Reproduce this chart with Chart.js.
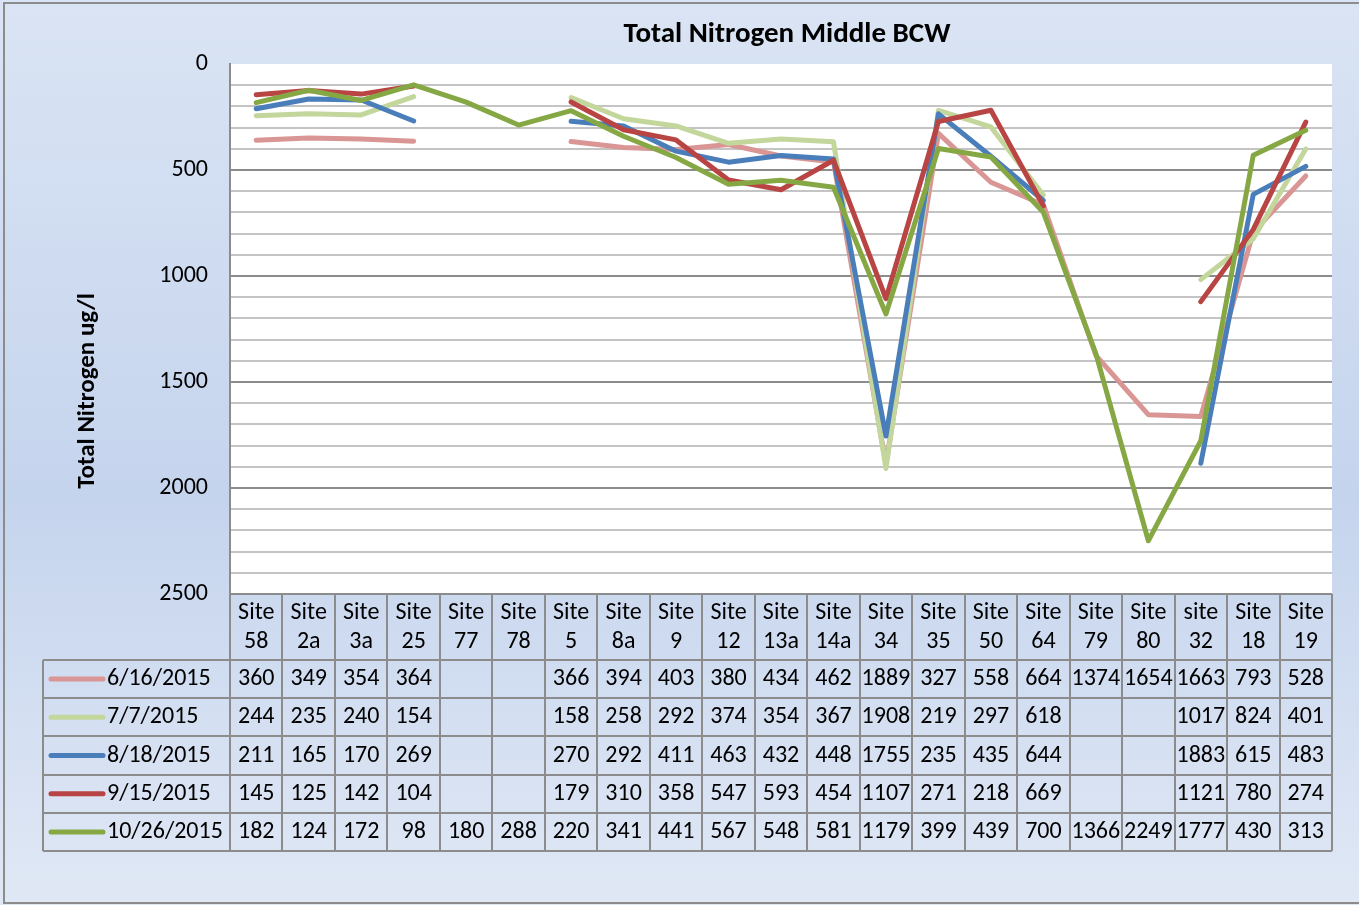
<!DOCTYPE html>
<html>
<head>
<meta charset="utf-8">
<script src="https://cdn.jsdelivr.net/npm/chart.js@4"></script>
<style>
  html, body { margin: 0; padding: 0; background: #fff; }
  #wrap { width: 1359px; height: 905px; position: relative; }
</style>
</head>
<body>
<div id="wrap"><canvas id="nitrogenChart" width="1359" height="905"></canvas></div>
<script>
// site names (two lines each, as in the table header)
const sites = [
  ['Site', '58'], ['Site', '2a'], ['Site', '3a'], ['Site', '25'], ['Site', '77'], ['Site', '78'],
  ['Site', '5'], ['Site', '8a'], ['Site', '9'], ['Site', '12'], ['Site', '13a'], ['Site', '14a'],
  ['Site', '34'], ['Site', '35'], ['Site', '50'], ['Site', '64'], ['Site', '79'], ['Site', '80'],
  ['site', '32'], ['Site', '18'], ['Site', '19']
];

const dates = ['6/16/2015', '7/7/2015', '8/18/2015', '9/15/2015', '10/26/2015'];

const jun16 = [360, 349, 354, 364, null, null, 366, 394, 403, 380, 434, 462, 1889, 327, 558, 664, 1374, 1654, 1663, 793, 528];
const jul7  = [244, 235, 240, 154, null, null, 158, 258, 292, 374, 354, 367, 1908, 219, 297, 618, null, null, 1017, 824, 401];
const aug18 = [211, 165, 170, 269, null, null, 270, 292, 411, 463, 432, 448, 1755, 235, 435, 644, null, null, 1883, 615, 483];
const sep15 = [145, 125, 142, 104, null, null, 179, 310, 358, 547, 593, 454, 1107, 271, 218, 669, null, null, 1121, 780, 274];
const oct26 = [182, 124, 172, 98, 180, 288, 220, 341, 441, 567, 548, 581, 1179, 399, 439, 700, 1366, 2249, 1777, 430, 313];

const yTicks = [0, 500, 1000, 1500, 2000, 2500];

const seriesValues = [jun16, jul7, aug18, sep15, oct26];
const seriesColors = ['#d99694', '#c3d69b', '#4a7ebb', '#b84543', '#86a844'];

const FONT = 'Carlito, Lato, "Noto Sans", sans-serif';

// background, frame and white plot area
const backdrop = {
  id: 'backdrop',
  beforeDraw(chart) {
    const ctx = chart.ctx;
    const { left, top, right, bottom } = chart.chartArea;
    ctx.save();
    const g = ctx.createLinearGradient(0, 0, 0, chart.height);
    g.addColorStop(0, '#dae4f4');
    g.addColorStop(0.55, '#c5d4ed');
    g.addColorStop(1, '#e0e8f5');
    ctx.fillStyle = g;
    ctx.fillRect(0, 0, chart.width, chart.height);
    ctx.strokeStyle = '#8c8c8c';
    ctx.lineWidth = 2;
    ctx.strokeRect(4, 3, chart.width + 10, chart.height - 5);
    ctx.fillStyle = '#ffffff';
    ctx.fillRect(left, top, right - left, bottom - top);
    ctx.restore();
  }
};

// title, y-axis title and the data table with legend keys
const dataTable = {
  id: 'dataTable',
  afterDraw(chart) {
    const ctx = chart.ctx;
    const area = chart.chartArea;
    const n = sites.length;
    const slot = (area.right - area.left) / n;
    const xs = chart.scales.x;
    const headTop = area.bottom;
    const headBottom = 660;
    const rowH = 38.2;
    const tableBottom = headBottom + rowH * dates.length;
    const tableLeft = 43;

    ctx.save();
    ctx.fillStyle = '#000';
    ctx.textAlign = 'center';
    ctx.textBaseline = 'middle';
    ctx.font = 'bold 29px ' + FONT;
    ctx.fillText('Total Nitrogen Middle BCW', 787, 35);

    ctx.save();
    ctx.translate(88, 391);
    ctx.rotate(-Math.PI / 2);
    ctx.font = 'bold 25px ' + FONT;
    ctx.fillText('Total Nitrogen ug/l', 0, 0);
    ctx.restore();

    // grid of the table
    ctx.strokeStyle = '#8c8c8c';
    ctx.lineWidth = 2;
    ctx.beginPath();
    for (let i = 0; i <= n; i++) {
      const x = Math.round(area.left + i * slot);
      ctx.moveTo(x, headTop);
      ctx.lineTo(x, tableBottom);
    }
    ctx.moveTo(area.left, headTop);
    ctx.lineTo(area.right, headTop);
    for (let r = 0; r <= dates.length; r++) {
      const y = Math.round(headBottom + r * rowH);
      ctx.moveTo(tableLeft, y);
      ctx.lineTo(area.right, y);
    }
    ctx.moveTo(tableLeft, headBottom);
    ctx.lineTo(tableLeft, tableBottom);
    ctx.stroke();

    // header labels
    ctx.font = '24px ' + FONT;
    ctx.fillStyle = '#000';
    sites.forEach((s, i) => {
      const cx = xs.getPixelForValue(i);
      ctx.fillText(s[0], cx, 613);
      ctx.fillText(s[1], cx, 642);
    });

    // rows
    dates.forEach((d, r) => {
      const cy = headBottom + r * rowH + rowH / 2;
      ctx.strokeStyle = seriesColors[r];
      ctx.lineWidth = 5;
      ctx.lineCap = 'round';
      ctx.beginPath();
      ctx.moveTo(51, cy);
      ctx.lineTo(103, cy);
      ctx.stroke();
      ctx.textAlign = 'left';
      ctx.fillText(d, 107, cy);
      ctx.textAlign = 'center';
      seriesValues[r].forEach((v, i) => {
        if (v !== null) ctx.fillText(String(v), xs.getPixelForValue(i), cy);
      });
    });
    ctx.restore();
  }
};

new Chart(document.getElementById('nitrogenChart').getContext('2d'), {
  type: 'line',
  data: {
    labels: sites,
    datasets: dates.map((d, i) => ({
      label: d,
      data: seriesValues[i],
      borderColor: seriesColors[i],
      backgroundColor: seriesColors[i],
      borderWidth: 5,
      borderCapStyle: 'round',
      borderJoinStyle: 'round',
      pointRadius: 0,
      tension: 0,
      spanGaps: false,
      order: dates.length - i
    }))
  },
  options: {
    responsive: false,
    animation: false,
    layout: { padding: { left: 76, top: 64, right: 27, bottom: 311 } },
    plugins: {
      legend: { display: false },
      title: { display: false },
      tooltip: { enabled: false }
    },
    scales: {
      x: { type: 'category', offset: true, display: false },
      y: {
        reverse: true,
        min: 0,
        max: 2500,
        afterFit(scale) { scale.width = 154; },
        afterBuildTicks(scale) {
          const all = [];
          for (let v = 0; v <= 2500; v += 100) all.push({ value: v });
          scale.ticks = all;
        },
        ticks: {
          autoSkip: false,
          padding: 22,
          color: '#000',
          font: { family: FONT, size: 24 },
          callback: (v) => (yTicks.includes(v) ? String(v) : '')
        },
        grid: {
          drawTicks: false,
          lineWidth: 2,
          color: (c) => {
            const v = c.tick ? c.tick.value : 0;
            if (v === 0 || v === 2500) return 'rgba(0,0,0,0)';
            return v % 500 === 0 ? '#8c8c8c' : '#c4c4c4';
          }
        },
        border: { display: true, color: '#8c8c8c', width: 2 }
      }
    }
  },
  plugins: [backdrop, dataTable]
});
</script>
</body>
</html>
